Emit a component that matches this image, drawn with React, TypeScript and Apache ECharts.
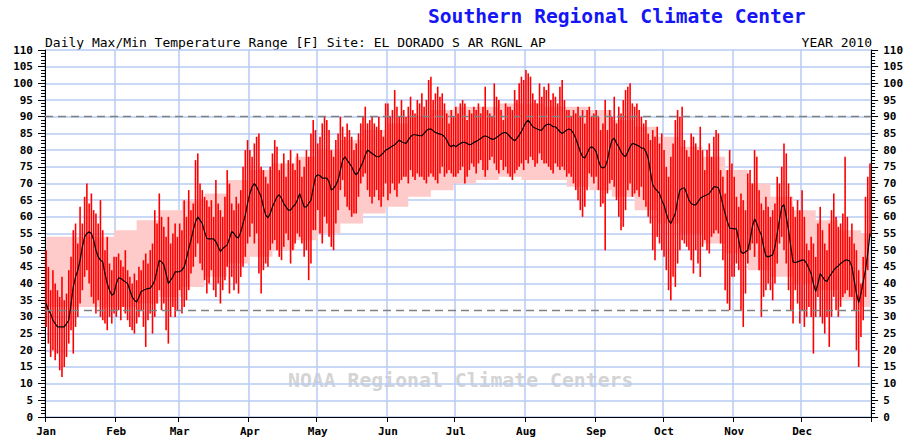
import React, { useEffect, useRef } from "react";
import * as echarts from "echarts";

const monthNames = ["Jan", "Feb", "Mar", "Apr", "May", "Jun", "Jul", "Aug", "Sep", "Oct", "Nov", "Dec"];
const monthStarts = [0, 31, 59, 90, 120, 151, 181, 212, 243, 273, 304, 334];
const yTicks = [0, 5, 10, 15, 20, 25, 30, 35, 40, 45, 50, 55, 60, 65, 70, 75, 80, 85, 90, 95, 100, 105, 110];

// Daily maximum temperatures (F)
const janMax = [50, 45, 38, 44, 40, 38, 36, 42, 35, 37, 44, 48, 56, 58, 52, 63, 58, 66, 70, 64, 67, 62, 61, 58, 65, 56, 50, 54, 46, 44, 48];
const febMax = [48, 49, 47, 45, 50, 44, 42, 40, 43, 41, 45, 44, 47, 49, 46, 50, 52, 62, 58, 67, 60, 57, 54, 60, 52, 55, 58, 54];
const marMax = [58, 56, 65, 60, 68, 62, 64, 77, 79, 70, 68, 66, 65, 63, 65, 60, 71, 64, 62, 60, 66, 74, 70, 64, 62, 66, 64, 68, 75, 80, 83];
const aprMax = [80, 78, 82, 84, 85, 75, 74, 72, 70, 75, 79, 83, 81, 74, 76, 79, 72, 77, 80, 76, 74, 79, 77, 72, 75, 80, 78, 85, 89, 86];
const mayMax = [82, 84, 88, 90, 89, 86, 80, 78, 83, 85, 90, 87, 84, 88, 86, 84, 80, 82, 85, 88, 90, 93, 88, 89, 90, 88, 87, 90, 86, 84, 94];
const junMax = [94, 90, 92, 98, 93, 90, 95, 92, 90, 93, 96, 92, 91, 95, 94, 97, 93, 95, 101, 102, 95, 97, 99, 96, 97, 94, 91, 88, 92, 90];
const julMax = [93, 91, 94, 95, 94, 89, 92, 91, 93, 92, 94, 91, 93, 99, 92, 91, 90, 100, 96, 95, 92, 89, 94, 93, 93, 92, 98, 95, 100, 102, 101];
const augMax = [104, 103, 102, 97, 95, 94, 100, 96, 99, 98, 100, 95, 97, 96, 94, 99, 101, 95, 92, 92, 90, 92, 91, 93, 90, 92, 88, 92, 93, 90, 91];
const sepMax = [92, 90, 86, 88, 95, 86, 92, 90, 96, 88, 93, 91, 95, 98, 99, 100, 94, 93, 94, 92, 90, 88, 89, 85, 83, 86, 84, 87, 82, 85];
const octMax = [80, 75, 72, 78, 82, 89, 92, 90, 93, 83, 80, 78, 85, 84, 82, 80, 87, 80, 74, 80, 82, 78, 84, 86, 85, 74, 72, 67, 74, 80, 76];
const novMax = [72, 66, 63, 67, 65, 62, 73, 74, 70, 80, 78, 68, 64, 62, 66, 63, 60, 62, 64, 72, 70, 75, 82, 79, 70, 66, 63, 60, 65, 62];
const decMax = [68, 60, 52, 50, 54, 52, 48, 58, 63, 56, 52, 50, 58, 62, 67, 60, 57, 58, 61, 78, 60, 54, 58, 52, 50, 44, 40, 48, 66, 72, 76];

// Daily minimum temperatures (F)
const janMin = [27, 22, 18, 20, 17, 19, 14, 12, 15, 18, 22, 26, 19, 27, 30, 34, 38, 42, 44, 40, 36, 34, 31, 35, 30, 29, 28, 26, 30, 28, 31];
const febMin = [30, 32, 29, 33, 31, 29, 27, 26, 25, 28, 30, 32, 27, 21, 29, 31, 25, 30, 34, 38, 32, 34, 26, 22, 30, 33, 30, 32];
const marMin = [38, 31, 33, 35, 38, 43, 45, 48, 52, 46, 44, 41, 37, 40, 44, 38, 36, 40, 34, 38, 41, 45, 37, 42, 38, 40, 37, 42, 45, 48, 52];
const aprMin = [54, 58, 52, 55, 43, 37, 44, 46, 45, 50, 52, 53, 50, 48, 47, 51, 55, 53, 46, 50, 52, 55, 54, 52, 48, 50, 41, 46, 56, 56];
const mayMin = [62, 55, 52, 60, 58, 54, 51, 50, 58, 62, 68, 71, 66, 63, 62, 60, 61, 61, 66, 70, 72, 73, 68, 66, 64, 66, 68, 65, 63, 66, 70];
const junMin = [65, 67, 70, 68, 66, 70, 71, 72, 72, 70, 74, 72, 71, 73, 72, 72, 71, 70, 72, 73, 72, 71, 70, 73, 75, 72, 73, 74, 73, 72];
const julMin = [72, 73, 74, 75, 70, 72, 74, 76, 75, 73, 76, 77, 74, 72, 74, 77, 78, 76, 74, 73, 77, 74, 75, 73, 72, 71, 73, 74, 75, 76, 74];
const augMin = [77, 76, 78, 77, 75, 76, 79, 77, 76, 76, 75, 74, 73, 76, 75, 74, 75, 74, 72, 73, 72, 70, 68, 65, 62, 60, 63, 68, 73, 72, 70];
const sepMin = [72, 68, 63, 64, 50, 67, 70, 71, 69, 65, 60, 56, 57, 62, 68, 70, 66, 67, 68, 66, 69, 65, 63, 60, 58, 50, 47, 54, 52, 50];
const octMin = [48, 44, 38, 35, 42, 39, 46, 50, 53, 52, 51, 50, 47, 43, 50, 46, 42, 51, 53, 50, 49, 54, 55, 56, 55, 52, 47, 38, 34, 32, 42];
const novMin = [42, 46, 44, 32, 27, 37, 46, 50, 52, 48, 52, 44, 30, 36, 38, 40, 38, 35, 40, 46, 52, 54, 50, 46, 38, 32, 28, 38, 34, 28];
const decMin = [32, 27, 30, 33, 30, 19, 30, 36, 30, 28, 25, 30, 21, 30, 36, 32, 30, 33, 36, 37, 38, 36, 36, 32, 20, 15, 24, 29, 36, 44, 54];

// Running mean (black line)
const janMean = [34, 32, 31, 29, 28, 27, 27, 27, 27, 28, 29, 34, 39, 42, 44, 47, 51, 54, 55, 55.5, 55, 53, 50, 48, 47, 46.5, 43, 40, 38, 36.5, 37];
const febMean = [40, 41.7, 41.5, 41, 40.5, 40, 38, 36, 35, 34.5, 36, 37.6, 38, 38.3, 38.5, 38.6, 39.5, 41, 44, 47, 46.5, 45.6, 43, 40, 41, 42, 43.5, 43.5];
const marMean = [43.6, 44, 45, 47.5, 50.5, 53, 56, 58.5, 60, 59, 58, 55.5, 53.5, 53.4, 53.4, 53.4, 52.5, 51, 49.6, 50.5, 51, 51.6, 53.5, 55.6, 55, 54, 53.7, 55.5, 58, 60.5, 64];
const aprMean = [67, 69, 70, 69, 67.5, 66, 63, 60.5, 59.7, 61, 63, 64.5, 66, 66.6, 65.5, 64, 63, 62, 62, 63, 63.6, 65, 67, 65, 63, 63, 64, 65, 68.5, 72];
const mayMean = [72.6, 72.3, 71.6, 71.6, 71.6, 70.5, 68, 68.5, 69.5, 71, 74, 77, 78, 77, 76, 75, 73.5, 72.6, 73.5, 75, 76.5, 78.5, 80, 79.5, 79, 78.5, 78, 78, 78.5, 79.2, 80];
const junMean = [80.3, 80.8, 81.2, 81.6, 82.3, 83, 82.5, 82.2, 82, 83, 84, 84.6, 84.6, 84.5, 84.3, 84.3, 85, 85.8, 86.3, 86.3, 85.8, 85.3, 85, 84.8, 84.6, 84, 83, 81.5, 81, 81.5];
const julMean = [81, 81.5, 82, 82.3, 82.3, 82, 81.6, 81.8, 82.3, 82.6, 83, 83.5, 84, 84.3, 84, 83.6, 83.3, 83.3, 83.8, 84.3, 84.8, 85.2, 85.3, 84.8, 84, 83.3, 82.8, 83.5, 84.5, 85.6, 87];
const augMean = [88.3, 89, 88, 87, 86.6, 86.3, 86, 86, 87, 87.6, 87.8, 87.5, 87, 87, 86.3, 85.5, 85, 85.5, 86, 86.3, 86, 85, 83.5, 81.5, 79.5, 78, 77.6, 79, 80.5, 81, 80.5];
const sepMean = [79.5, 77, 75, 74.6, 75, 77, 80.5, 83, 83.6, 82, 81, 79.5, 78.5, 78, 79.5, 81, 82, 81.8, 81.5, 81.2, 80.6, 80.6, 79.5, 77.6, 73.5, 69.6, 68.5, 67.8, 67, 65];
const octMean = [63.5, 61, 59, 58, 59.5, 61, 65, 68, 68.5, 68.7, 67, 65, 64, 63.6, 63.6, 64.5, 65.5, 66, 66.3, 66.6, 67, 68, 69, 69, 68.7, 66.5, 63.5, 61, 58.5, 56.6, 56.5];
const novMean = [56.4, 56.4, 53, 49.5, 49, 49.5, 50, 53, 57, 59.4, 58, 56, 54.6, 51, 48.3, 48, 48.3, 48.6, 51, 55, 59, 63, 63.6, 60, 56, 51, 46.5, 46.3, 46.5, 46.8];
const decMean = [47, 47, 46, 44.5, 43, 40, 37.6, 40, 43, 42, 41, 40.6, 42, 43, 44, 44.8, 45.3, 46, 46.5, 47, 47, 46.8, 45, 41, 37, 34.3, 37, 40.5, 44, 49, 55];

// Normal range (pink band), values holding from each listed day
const normalDays = [0, 10, 20, 30, 40, 50, 60, 70, 80, 90, 100, 110, 120, 130, 140, 150, 160, 170, 180, 190, 200, 210, 220, 230, 240, 250, 260, 270, 280, 290, 300, 310, 320, 330, 340, 350, 360, 364];
const normalHigh = [54, 54, 54, 56, 59, 62, 65, 67, 71, 74, 76, 78, 80, 83, 86, 88, 90, 92, 93, 93, 94, 94, 93, 93, 92, 89, 87, 84, 81, 78, 74, 70, 66, 62, 59, 56, 55, 55];
const normalLow = [33, 33, 33, 33, 34, 36, 39, 42, 46, 48, 50, 53, 55, 58, 61, 63, 66, 68, 70, 71, 72, 71, 71, 69, 68, 66, 62, 58, 55, 52, 49, 44, 42, 40, 38, 35, 33, 33];

const refLines = [90, 32];

const dailyMax = [...janMax, ...febMax, ...marMax, ...aprMax, ...mayMax, ...junMax, ...julMax, ...augMax, ...sepMax, ...octMax, ...novMax, ...decMax];
const dailyMin = [...janMin, ...febMin, ...marMin, ...aprMin, ...mayMin, ...junMin, ...julMin, ...augMin, ...sepMin, ...octMin, ...novMin, ...decMin];
const dailyMean = [...janMean, ...febMean, ...marMean, ...aprMean, ...mayMean, ...junMean, ...julMean, ...augMean, ...sepMean, ...octMean, ...novMean, ...decMean];

const MONO = "DejaVu Sans Mono";

export default function App() {
  const ref = useRef<HTMLDivElement>(null);
  useEffect(() => {
    if (!ref.current) return;
    const chart = echarts.init(ref.current, null, { renderer: "svg" });
    const days = dailyMax.map((_, i) => String(i));
    const isMonthStart = (i: number) => monthStarts.indexOf(i) >= 0;
    const gridColor = "#b9cbf6";
    const yAxisBase = (pos: "left" | "right") => ({
      type: "value",
      position: pos,
      min: 0,
      max: 110,
      interval: 5,
      axisLine: { show: true, lineStyle: { color: "#000", width: 1 } },
      axisTick: { show: true, length: 7, lineStyle: { color: "#000" } },
      minorTick: { show: true, splitNumber: 5, length: 4, lineStyle: { color: "#000" } },
      axisLabel: {
        color: "#000",
        fontFamily: MONO,
        fontWeight: "bold",
        fontSize: 11,
        margin: 12,
        formatter: (v: number) => (yTicks.indexOf(v) >= 0 ? String(v) : ""),
      },
      splitLine: { show: pos === "left", lineStyle: { color: gridColor, width: 1.5 } },
    });

    chart.setOption({
      animation: false,
      backgroundColor: "#fff",
      grid: { left: 45, top: 50, width: 831, height: 367, containLabel: false },
      xAxis: {
        type: "category",
        data: days,
        boundaryGap: true,
        axisLine: { show: true, lineStyle: { color: "#000", width: 1 } },
        axisTick: { show: true, length: 5, interval: (i: number) => isMonthStart(i), lineStyle: { color: "#000" } },
        axisLabel: {
          interval: (i: number) => isMonthStart(i),
          formatter: (_v: string, i: number) => monthNames[monthStarts.indexOf(i)] || "",
          color: "#000",
          fontFamily: MONO,
          fontWeight: "bold",
          fontSize: 11,
          margin: 9,
        },
        splitLine: { show: true, interval: (i: number) => isMonthStart(i), lineStyle: { color: gridColor, width: 1.5 } },
      },
      yAxis: [yAxisBase("left"), yAxisBase("right")],
      graphic: [
        {
          type: "text",
          left: 428,
          top: 6,
          style: { text: "Southern Regional Climate Center", fill: "#1515f5", font: `bold 19.6px "${MONO}"` },
        },
        {
          type: "text",
          left: 45,
          top: 36,
          style: { text: "Daily Max/Min Temperature Range [F] Site: EL DORADO S AR RGNL AP", fill: "#000", font: `13px "${MONO}"` },
        },
        {
          type: "text",
          right: 34,
          top: 36,
          style: { text: "YEAR 2010", fill: "#000", font: `13px "${MONO}"` },
        },
        {
          type: "text",
          left: 288,
          top: 370,
          z: 0,
          style: { text: "NOAA Regional Climate Centers", fill: "#d4d4d4", font: `bold 19.8px "${MONO}"` },
        },
      ],
      series: [
        {
          name: "normLow",
          type: "line",
          stack: "normals",
          step: "end",
          symbol: "none",
          z: 1,
          lineStyle: { width: 0, opacity: 0 },
          data: normalDays.map((d, k) => [d, normalLow[k]]),
        },
        {
          name: "normRange",
          type: "line",
          stack: "normals",
          step: "end",
          symbol: "none",
          z: 1,
          lineStyle: { width: 0, opacity: 0 },
          areaStyle: { color: "#ffcaca", opacity: 1 },
          data: normalDays.map((d, k) => [d, normalHigh[k] - normalLow[k]]),
          markLine: {
            silent: true,
            symbol: "none",
            label: { show: false },
            lineStyle: { color: "#808080", type: [8, 5], width: 1.3 },
            data: refLines.map((v) => ({ yAxis: v })),
          },
        },
        {
          name: "daily",
          type: "custom",
          z: 2,
          encode: { x: 0, y: [1, 2] },
          data: dailyMax.map((mx, i) => [i, dailyMin[i], mx]),
          renderItem: (_p: any, api: any) => {
            const i = api.value(0);
            const lo = api.coord([i, api.value(1)]);
            const hi = api.coord([i, api.value(2)]);
            return {
              type: "rect",
              shape: { x: lo[0] - 0.8, y: hi[1], width: 1.6, height: lo[1] - hi[1] },
              style: { fill: "#ff0000" },
            };
          },
        },
        {
          name: "mean",
          type: "line",
          z: 3,
          symbol: "none",
          lineStyle: { color: "#000", width: 1.2 },
          data: dailyMean,
        },
      ],
    });
    return () => chart.dispose();
  }, []);
  return <div ref={ref} style={{ width: 906, height: 440, position: "absolute", left: 0, top: 0 }} />;
}
